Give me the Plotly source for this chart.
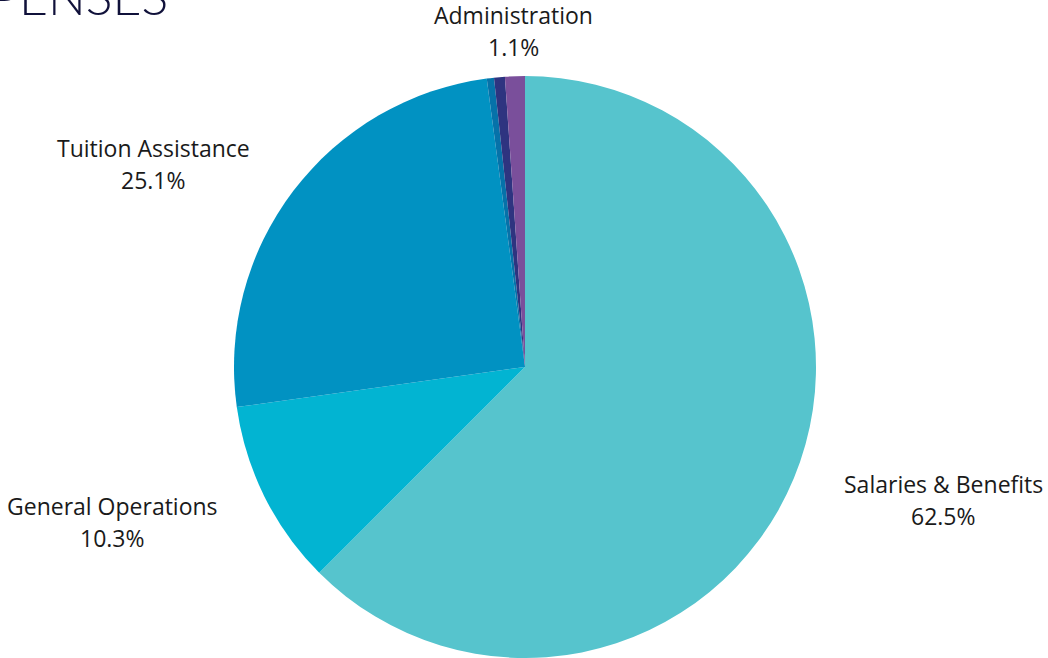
import plotly.graph_objects as go

# Data
categories = ["Salaries & Benefits", "General Operations", "Tuition Assistance",
              "Other", "Development", "Administration"]
values = [62.5, 10.3, 25.1, 0.4, 0.6, 1.1]
colors = ["#56C4CD", "#02B4D2", "#0192C2", "#0672A9", "#2E3480", "#7A4F9B"]
shown = [True, True, True, False, False, True]

W, H = 1048, 658

# label anchor positions (pixels, center of first line) - layout only
label_pos = {
    "Salaries & Benefits": (943, 484),
    "General Operations": (112, 506),
    "Tuition Assistance": (153, 148),
    "Administration": (513, 15),
}
line_gap = 32
label_font = dict(family="Open Sans", size=23, color="#1a1a1a")


def px_x(x):
    return x / W


def px_y(y):
    return 1 - y / H


cx, cy, r = 525, 368, 292
fig = go.Figure(go.Pie(
    labels=categories,
    values=values,
    sort=False,
    direction="clockwise",
    rotation=0,
    marker=dict(colors=colors, line=dict(width=0)),
    textinfo="none",
    hoverinfo="label+percent",
    showlegend=False,
    domain=dict(x=[px_x(cx - r), px_x(cx + r)], y=[0, px_y(cy - r)]),
))

total = sum(values)
annotations = []
for name, v, s in zip(categories, values, shown):
    if not s:
        continue
    px, py = label_pos[name]
    annotations.append(dict(x=px_x(px), y=px_y(py), xref="paper", yref="paper",
                            text=name, showarrow=False, xanchor="center",
                            yanchor="middle", font=label_font))
    annotations.append(dict(x=px_x(px), y=px_y(py + line_gap), xref="paper", yref="paper",
                            text=f"{v / total * 100:.1f}%", showarrow=False, xanchor="center",
                            yanchor="middle", font=label_font))

# cropped title
annotations.append(dict(x=px_x(170), y=px_y(28), xref="paper", yref="paper",
                        text="EXPENSES", showarrow=False, xanchor="right", yanchor="bottom",
                        font=dict(family="Lato", size=50, color="#10113A", weight=300)))

fig.update_layout(
    width=W, height=H,
    margin=dict(l=0, r=0, t=0, b=0),
    paper_bgcolor="white",
    plot_bgcolor="white",
    annotations=annotations,
)

fig.write_html("out.html", config={"displayModeBar": False},
               post_script="document.body.style.margin='0';")
